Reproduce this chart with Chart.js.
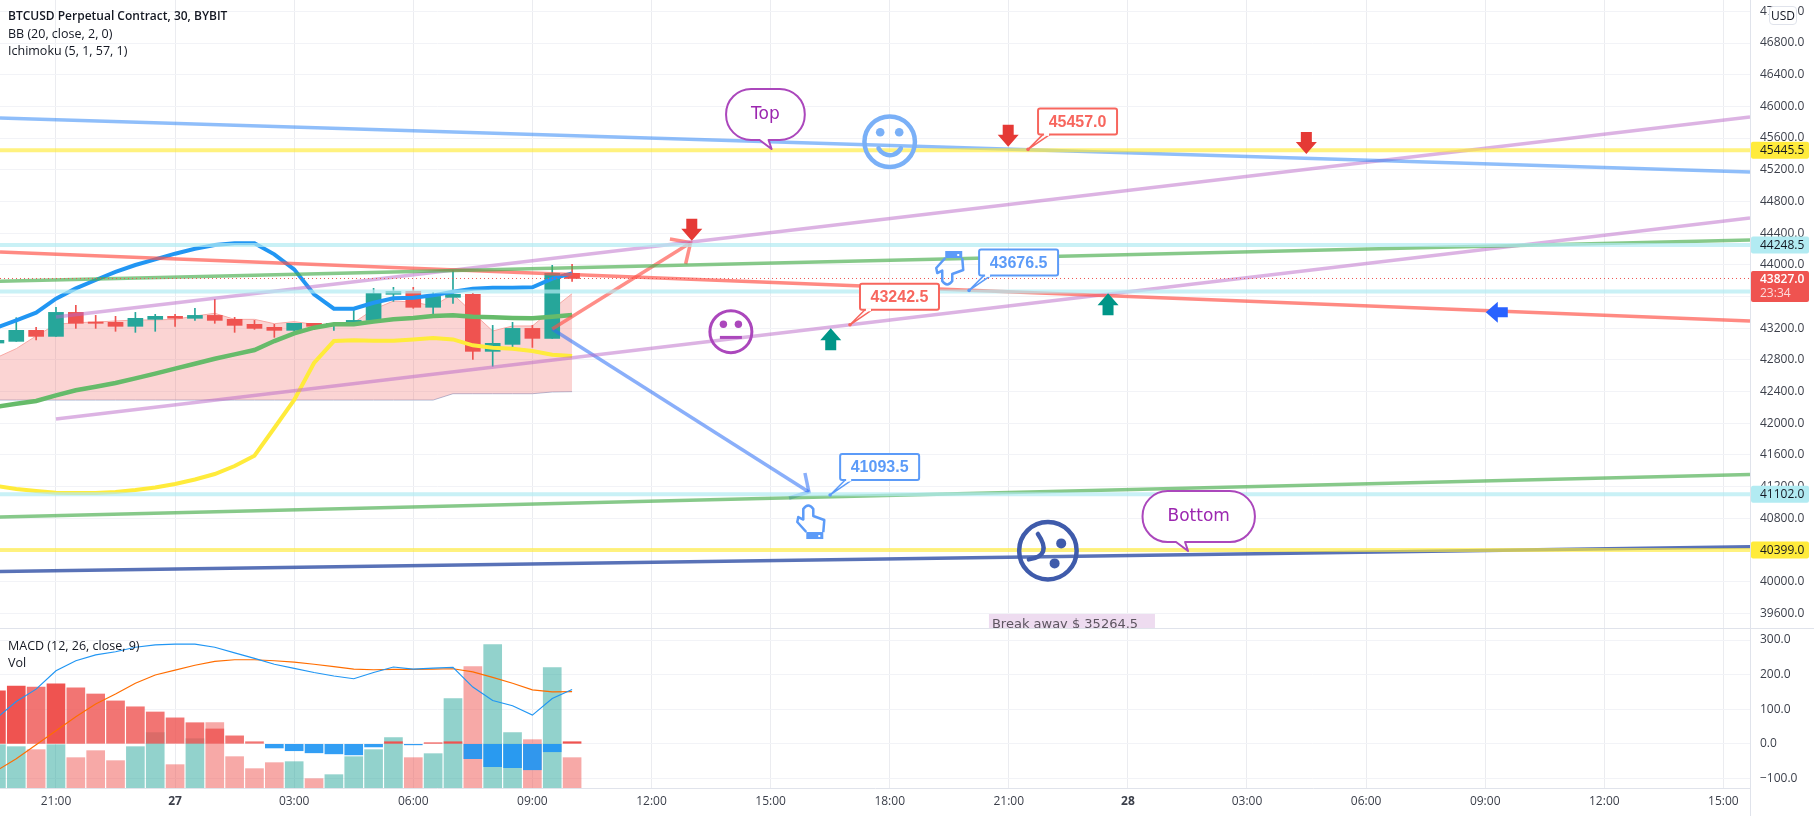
<!DOCTYPE html>
<html>
<head>
<meta charset="utf-8">
<title>BTCUSD Perpetual Contract</title>
<script src="https://cdn.jsdelivr.net/npm/chart.js@4"></script>
<style>
  html, body { margin: 0; padding: 0; background: #fff; overflow: hidden; }
  #page { position: relative; width: 1814px; height: 816px; font-family: "Open Sans", sans-serif; color: #131722; }
  canvas { position: absolute; left: 0; }
  #mainChart { top: 0; }
  #lowerChart { top: 628px; }
  .txt { position: absolute; left: 8px; font-size: 12.5px; line-height: 17px; white-space: nowrap; }
  .rule { position: absolute; background: #e0e3eb; }
  #usd { position: absolute; left: 1769px; top: 6px; width: 26px; height: 17px; border: 1px solid #e0e3eb; border-radius: 4px;
         background: #fff; font-size: 12px; line-height: 17px; text-align: center; }
</style>
</head>
<body>
<div id="page">
  <canvas id="mainChart" width="1814" height="628"></canvas>
  <canvas id="lowerChart" width="1814" height="188"></canvas>
  <div class="rule" style="left:0;top:628px;width:1814px;height:1px"></div>
  <div class="rule" style="left:1750px;top:0;width:1px;height:816px"></div>
  <div class="txt" style="top:7px;font-weight:600;font-size:12px">BTCUSD Perpetual Contract, 30, BYBIT</div>
  <div class="txt" style="top:25px">BB (20, close, 2, 0)</div>
  <div class="txt" style="top:42px">Ichimoku (5, 1, 57, 1)</div>
  <div class="txt" style="top:637px">MACD (12, 26, close, 9)</div>
  <div class="txt" style="top:654px">Vol</div>
  <div id="usd">USD</div>
</div>
<script>
// bar number, 0 is the 21:00 bar, one bar = 30 minutes
const bars = [-3,-2,-1,0,1,2,3,4,5,6,7,8,9,10,11,12,13,14,15,16,17,18,19,20,21,22,23,24,25,26];

const opens  = [43012,43033,43172,43096,43399,43277,43273,43223,43311,43349,43324,43361,43311,43248,43210,43172,43261,43231,43261,43298,43627,43665,43463,43589,43627,42907,42995,43197,43071,43892];
const closes = [43046,43172,43096,43399,43261,43261,43223,43324,43349,43324,43361,43298,43235,43197,43172,43261,43223,43261,43298,43639,43665,43463,43601,43627,42907,43008,43197,43071,43892,43827];
const highs  = [43046,43332,43210,43463,43488,43361,43349,43399,43374,43374,43450,43564,43336,43298,43248,43261,43261,43261,43425,43702,43715,43715,43648,43930,43639,43235,43273,43235,43993,44005];
const lows   = [43012,43033,43050,43096,43197,43197,43160,43147,43160,43223,43298,43261,43147,43185,43084,43160,43210,43172,43261,43269,43538,43450,43361,43513,42806,42718,42957,42957,43071,43791];

const blueLine   = [43206,43298,43395,43572,43702,43808,43909,43997,44069,44140,44203,44250,44271,44271,44132,43942,43627,43446,43446,43521,43576,43585,43614,43660,43698,43711,43711,43715,43825,43892];
const greenLine  = [42208,42246,42280,42351,42415,42461,42507,42566,42625,42688,42751,42814,42869,42924,43037,43134,43206,43248,43248,43282,43311,43328,43353,43362,43345,43336,43328,43324,43345,43366];
const yellowLine = [41207,41169,41144,41122,41118,41118,41131,41156,41188,41232,41289,41358,41459,41589,41939,42293,42760,43037,43046,43042,43042,43058,43075,43058,42983,42953,42941,42911,42865,42848];
const cloudTop   = [42827,42941,43101,43248,43269,43277,43290,43303,43303,43311,43353,43387,43311,43311,43256,43282,43248,43248,43269,43437,43542,43530,43479,43627,43395,43164,43227,43227,43437,43635];
const cloudLow   = [42292,42292,42292,42292,42292,42292,42292,42292,42292,42292,42292,42292,42292,42292,42292,42292,42292,42292,42292,42292,42292,42292,42292,42372,42372,42372,42372,42372,42394,42398];

const macdLine   = [74,122,158,211,240,257,266,279,286,288,288,279,263,247,230,218,206,196,188,206,222,216,219,221,164,125,110,83,131,157];
const signalLine = [-78,-43,-3,38,78,115,144,175,199,213,227,238,243,243,240,236,230,223,216,214,215,215,216,217,208,192,175,156,150,151];
const histogram  = [153,167,164,173,162,144,124,107,92,75,61,43,23,6,-12,-20,-26,-29,-32,-9,6,-3,3,6,-43,-66,-69,-75,-23,6];
const volumes    = [130,124,115,130,91,112,82,124,166,70,148,196,94,58,76,79,28,40,94,115,151,91,103,268,364,430,166,145,361,91];

const timeLabels  = ['21:00','27','03:00','06:00','09:00','12:00','15:00','18:00','21:00','28','03:00','06:00','09:00','12:00','15:00'];
const priceTicks  = [39600,40000,40400,40800,41200,41600,42000,42400,42800,43200,43600,44000,44400,44800,45200,45600,46000,46400,46800,47200];
const macdTicks   = [-100,0,100,200,300];

// drawn lines, [bar, price]
const lineTop      = [[-2.82,45853],[85.34,45171]];
const lineRise1    = [[0,43340],[85.34,45866]];
const lineRise2    = [[0,42053],[85.34,44590]];
const lineGreen1   = [[-2.82,43791],[85.34,44313]];
const lineGreen2   = [[-2.82,40815],[85.34,41352]];
const lineRed      = [[-2.82,44161],[85.34,43290]];
const lineDark     = [[-2.82,40127],[85.34,40441]];
const redArrow     = [[25,43189],[31.97,44279]];
const redArrowA    = [[30.93,44325],[31.97,44279],[31.72,44010]];
const blueArrow    = [[25,43189],[37.93,41131]];
const blueArrowA   = [[37.73,41371],[37.93,41131],[36.93,41055]];

const yellowLevels = [45445.5, 40399];
const cyanLevels   = [44248.5, 43663, 41102];
const lastPrice    = 43827;
const countdown    = '23:34';

// markers, [bar, price]
const downArrows = [[47.97,45491],[62.99,45399],[32.03,44304]];
const upArrows   = [[53,43640],[39.03,43198]];
const leftArrows = [[72.03,43400]];
const smileAt    = [42,45554];
const neutralAt  = [34,43155];
const sadAt      = [49.97,40390];
const handUpAt   = [38,40752];
const handDownAt = [45,43959];
const redCallouts  = [[48.97,45457],[40,43242.5]];
const blueCallouts = [[46,43676.5],[39,41093.5]];
const bubbles      = [['Top',36.05,45462],['Bottom',57.03,40386]];
const breakAway    = ['Break away $ 35264.5',47,39591];

const UP = '#26a69a', DOWN = '#ef5350';
const xMin = -2.82, xMax = 85.34;
const font = 'Open Sans';

const pts = vals => vals.map((v, k) => ({ x: bars[k], y: v }));
const segs = arr => arr.map(p => ({ x: p[0], y: p[1] }));
const isUp = k => closes[k] >= opens[k];

function trend(data, color, width) {
  return { type: 'line', data: segs(data), borderColor: color, borderWidth: width || 3.5, pointRadius: 0, tension: 0, order: 2, fill: false };
}
function level(v, color) {
  return trend([[xMin, v], [xMax, v]], color, 4);
}
function indicator(vals, color, width, order) {
  return { type: 'line', data: pts(vals), borderColor: color, borderWidth: width, pointRadius: 0, tension: 0, order: order, fill: false };
}
// the scales must fill the canvas edge to edge, so no room for half labels
function noPadding(s) {
  s.paddingTop = 0; s.paddingBottom = 0; s.paddingLeft = 0; s.paddingRight = 0;
}

function arrowDown(ctx, x, y, c) {
  ctx.fillStyle = c;
  ctx.beginPath();
  ctx.moveTo(x, y); ctx.lineTo(x - 10.5, y - 12); ctx.lineTo(x - 5.5, y - 12); ctx.lineTo(x - 5.5, y - 22);
  ctx.lineTo(x + 5.5, y - 22); ctx.lineTo(x + 5.5, y - 12); ctx.lineTo(x + 10.5, y - 12);
  ctx.closePath(); ctx.fill();
}
function arrowUp(ctx, x, y, c) {
  ctx.fillStyle = c;
  ctx.beginPath();
  ctx.moveTo(x, y); ctx.lineTo(x - 10.5, y + 12); ctx.lineTo(x - 5.5, y + 12); ctx.lineTo(x - 5.5, y + 22);
  ctx.lineTo(x + 5.5, y + 22); ctx.lineTo(x + 5.5, y + 12); ctx.lineTo(x + 10.5, y + 12);
  ctx.closePath(); ctx.fill();
}
function arrowLeft(ctx, x, y, c) {
  ctx.fillStyle = c;
  ctx.beginPath();
  ctx.moveTo(x, y); ctx.lineTo(x + 12, y - 10.5); ctx.lineTo(x + 12, y - 5); ctx.lineTo(x + 22, y - 5);
  ctx.lineTo(x + 22, y + 5); ctx.lineTo(x + 12, y + 5); ctx.lineTo(x + 12, y + 10.5);
  ctx.closePath(); ctx.fill();
}

function callout(ctx, x, y, price, c) {
  const left = x + 10, top = y - 41, w = 79, h = 26;
  ctx.strokeStyle = c; ctx.lineWidth = 1.5; ctx.fillStyle = '#fff';
  ctx.beginPath();
  ctx.moveTo(left + 5, top + h); ctx.lineTo(x, y); ctx.lineTo(left + 12, top + h);
  ctx.stroke();
  ctx.lineWidth = 2;
  ctx.beginPath(); ctx.roundRect(left, top, w, h, 2); ctx.fill(); ctx.stroke();
  ctx.fillStyle = '#fff'; ctx.fillRect(left + 6, top + h - 1.5, 5, 3);
  ctx.fillStyle = c;
  ctx.beginPath(); ctx.arc(x, y, 1.8, 0, Math.PI * 2); ctx.fill();
  ctx.font = 'bold 16px "Liberation Sans"'; ctx.textAlign = 'center'; ctx.textBaseline = 'middle';
  ctx.fillText(price.toFixed(1), left + w / 2, top + h / 2 + 1);
}

function bubble(ctx, x, y, text) {
  ctx.font = '17px "DejaVu Sans"';
  const w = ctx.measureText(text).width + 50, h = 51;
  const left = x - 45.5, bottom = y - 9, top = bottom - h, r = 25;
  ctx.strokeStyle = '#ab47bc'; ctx.lineWidth = 2; ctx.fillStyle = '#fff';
  ctx.beginPath();
  ctx.moveTo(left + r, top); ctx.lineTo(left + w - r, top);
  ctx.arcTo(left + w, top, left + w, top + r, r); ctx.arcTo(left + w, bottom, left + w - r, bottom, r);
  ctx.lineTo(x - 3, bottom); ctx.lineTo(x, y); ctx.lineTo(x - 12, bottom); ctx.lineTo(left + r, bottom);
  ctx.arcTo(left, bottom, left, bottom - r, r); ctx.arcTo(left, top, left + r, top, r);
  ctx.closePath(); ctx.fill(); ctx.stroke();
  ctx.fillStyle = '#9c27b0'; ctx.textAlign = 'center'; ctx.textBaseline = 'middle';
  ctx.fillText(text, left + w / 2, top + h / 2);
}

function ring(ctx, x, y, r, lw, c) {
  ctx.strokeStyle = c; ctx.lineWidth = lw; ctx.fillStyle = c; ctx.lineCap = 'round';
  ctx.beginPath(); ctx.arc(x, y, r - lw / 2, 0, Math.PI * 2); ctx.stroke();
}
function dot(ctx, x, y, r) {
  ctx.beginPath(); ctx.arc(x, y, r, 0, Math.PI * 2); ctx.fill();
}
function smile(ctx, x, y) {
  ring(ctx, x, y, 27.5, 4.5, '#7ab0f7');
  dot(ctx, x - 9.5, y - 9.5, 4.3); dot(ctx, x + 9.5, y - 9.5, 4.3);
  ctx.beginPath(); ctx.arc(x, y + 1, 12.5, 0.15 * Math.PI, 0.85 * Math.PI); ctx.stroke();
}
function neutral(ctx, x, y) {
  ring(ctx, x, y, 22.5, 3, '#ab47bc');
  dot(ctx, x - 7.5, y - 7.5, 3.7); dot(ctx, x + 7.5, y - 7.5, 3.7);
  ctx.lineCap = 'butt'; ctx.lineWidth = 3;
  ctx.beginPath(); ctx.moveTo(x - 11, y + 5.7); ctx.lineTo(x + 11, y + 5.7); ctx.stroke();
}
function sad(ctx, x, y) {
  ring(ctx, x, y, 31, 4.5, '#3f5bab');
  dot(ctx, x + 13.3, y - 7.3, 5); dot(ctx, x + 6.7, y + 12.7, 5);
  ctx.beginPath(); ctx.moveTo(x - 10, y - 16.7); ctx.quadraticCurveTo(x + 5, y + 5, x - 19, y + 8.7); ctx.stroke();
}

// dir 1 = finger up, dir -1 = finger down
function hand(ctx, x, y, dir) {
  const c = '#5c9bf8';
  ctx.strokeStyle = c; ctx.lineWidth = 2.5; ctx.fillStyle = c; ctx.lineJoin = 'round'; ctx.lineCap = 'butt';
  ctx.beginPath();
  ctx.moveTo(x - 4, y + 10 * dir); ctx.lineTo(x - 13, y); ctx.lineTo(x - 12, y - 5 * dir); ctx.lineTo(x - 7, y - 2.5 * dir);
  ctx.lineTo(x - 7, y - 13 * dir); ctx.quadraticCurveTo(x - 2, y - 20 * dir, x + 3, y - 13 * dir);
  ctx.lineTo(x + 3, y - 6 * dir); ctx.lineTo(x + 14, y - 2 * dir); ctx.lineTo(x + 13, y + 10 * dir);
  ctx.stroke();
  const top = dir > 0 ? y + 10 : y - 17;
  ctx.fillRect(x - 4, top, 17, 7);
  ctx.fillStyle = '#fff'; ctx.fillRect(x + 8, dir > 0 ? y + 13 : y - 14, 2, 2);
}

function priceTag(ctx, yPix, text, bg) {
  ctx.fillStyle = bg;
  ctx.beginPath(); ctx.roundRect(1751, yPix - 8.5, 58, 17, 2); ctx.fill();
  ctx.fillStyle = '#131722'; ctx.font = '12px "' + font + '"'; ctx.textAlign = 'left'; ctx.textBaseline = 'middle';
  ctx.fillText(text, 1760, yPix + 0.5);
}

const markerPlugin = {
  id: 'markers',
  afterDraw(chart) {
    const ctx = chart.ctx, sx = chart.scales.x, sy = chart.scales.y, a = chart.chartArea;
    const X = p => sx.getPixelForValue(p), Y = p => sy.getPixelForValue(p);
    ctx.save();
    downArrows.forEach(p => arrowDown(ctx, X(p[0]), Y(p[1]), '#e53935'));
    upArrows.forEach(p => arrowUp(ctx, X(p[0]), Y(p[1]), '#009688'));
    leftArrows.forEach(p => arrowLeft(ctx, X(p[0]), Y(p[1]), '#2962ff'));
    smile(ctx, X(smileAt[0]), Y(smileAt[1]));
    neutral(ctx, X(neutralAt[0]), Y(neutralAt[1]));
    sad(ctx, X(sadAt[0]), Y(sadAt[1]));
    hand(ctx, X(handUpAt[0]), Y(handUpAt[1]), 1);
    hand(ctx, X(handDownAt[0]), Y(handDownAt[1]), -1);
    redCallouts.forEach(p => callout(ctx, X(p[0]), Y(p[1]), p[1], '#f7665e'));
    blueCallouts.forEach(p => callout(ctx, X(p[0]), Y(p[1]), p[1], '#5c9bf8'));
    bubbles.forEach(b => bubble(ctx, X(b[1]), Y(b[2]), b[0]));

    // text box cut by the bottom of the pane
    ctx.save();
    ctx.beginPath(); ctx.rect(a.left, a.top, a.right - a.left, a.bottom - a.top); ctx.clip();
    const bx = X(breakAway[1]), by = Y(breakAway[2]);
    ctx.fillStyle = '#eedcf0'; ctx.fillRect(bx, by, 166, 20);
    ctx.fillStyle = '#5d5560'; ctx.font = '13px "DejaVu Sans"'; ctx.textAlign = 'left'; ctx.textBaseline = 'alphabetic';
    ctx.fillText(breakAway[0], bx + 3, by + 14);
    ctx.restore();

    yellowLevels.forEach(v => priceTag(ctx, Y(v), v.toFixed(1), '#ffeb3b'));
    cyanLevels.forEach(v => priceTag(ctx, Y(v), v.toFixed(1), '#b2ebf2'));

    const ly = Y(lastPrice);
    ctx.fillStyle = DOWN;
    ctx.beginPath(); ctx.roundRect(1751, ly - 7.5, 58, 31, 2); ctx.fill();
    ctx.textAlign = 'left'; ctx.textBaseline = 'middle';
    ctx.fillStyle = '#fff'; ctx.font = '600 12px "' + font + '"';
    ctx.fillText(lastPrice.toFixed(1), 1760, ly + 1);
    ctx.fillStyle = '#fcdcdb'; ctx.font = '12px "' + font + '"';
    ctx.fillText(countdown, 1760, ly + 15);
    ctx.restore();
  }
};

const gridH = '#f2f3f7', gridV = '#ebecf0';

new Chart(document.getElementById('mainChart'), {
  type: 'bar',
  plugins: [markerPlugin],
  data: {
    datasets: [
      { type: 'line', data: pts(cloudLow), borderColor: '#b0bcd8', borderWidth: 1, pointRadius: 0, tension: 0, order: 9, fill: false },
      { type: 'line', data: pts(cloudTop), borderColor: '#f7a8a4', borderWidth: 1, pointRadius: 0, tension: 0, order: 8,
        fill: { target: 0 }, backgroundColor: 'rgba(239,83,80,0.25)' },
      { data: pts(lows.map((l, k) => [l, highs[k]])), backgroundColor: bars.map((b, k) => isUp(k) ? UP : DOWN), barThickness: 1, grouped: false, order: 7 },
      { data: pts(opens.map((o, k) => [o, closes[k]])), backgroundColor: bars.map((b, k) => isUp(k) ? UP : DOWN), barThickness: 15, grouped: false, order: 6 },
      indicator(yellowLine, '#ffeb3b', 4, 5),
      indicator(greenLine, '#66bb6a', 4.5, 4),
      indicator(blueLine, '#2196f3', 4, 3),
      ...yellowLevels.map(v => level(v, 'rgba(255,235,59,0.65)')),
      ...cyanLevels.map(v => level(v, 'rgba(178,235,242,0.7)')),
      { type: 'line', data: segs([[xMin, lastPrice], [xMax, lastPrice]]), borderColor: DOWN, borderWidth: 1, borderDash: [1, 3], pointRadius: 0, order: 2 },
      trend(lineGreen1, 'rgba(76,175,80,0.67)'),
      trend(lineGreen2, 'rgba(76,175,80,0.67)'),
      trend(lineDark, 'rgba(48,79,165,0.8)'),
      trend(lineTop, 'rgba(41,130,245,0.52)'),
      trend(lineRed, 'rgba(255,82,72,0.68)'),
      trend(lineRise1, 'rgba(186,104,200,0.5)'),
      trend(lineRise2, 'rgba(186,104,200,0.5)'),
      trend(redArrow, 'rgba(255,82,72,0.65)'),
      trend(redArrowA, 'rgba(255,82,72,0.65)'),
      trend(blueArrow, 'rgba(41,110,245,0.55)'),
      trend(blueArrowA, 'rgba(41,110,245,0.55)')
    ]
  },
  options: {
    responsive: false, animation: false, events: [], devicePixelRatio: 1,
    layout: { padding: 0 },
    plugins: { legend: { display: false }, tooltip: { enabled: false } },
    scales: {
      x: {
        type: 'linear', min: xMin, max: xMax, offset: false,
        border: { display: false },
        grid: { color: gridV, offset: false, drawTicks: false },
        ticks: { display: false, stepSize: 6, includeBounds: false },
        afterFit(s) { s.height = 0; noPadding(s); }
      },
      y: {
        position: 'right', min: 39414, max: 47343,
        border: { display: false },
        grid: { color: gridH, drawTicks: false },
        afterBuildTicks(s) { s.ticks = priceTicks.map(v => ({ value: v })); },
        ticks: {
          padding: 10, color: '#3b3f4a',
          font: { family: font, size: 12 },
          callback: v => v.toFixed(1)
        },
        afterFit(s) { s.width = 64; noPadding(s); }
      }
    }
  }
});

new Chart(document.getElementById('lowerChart'), {
  type: 'bar',
  data: {
    datasets: [
      { data: pts(histogram), yAxisID: 'y',
        backgroundColor: histogram.map((h, k) => h < 0 ? 'rgba(33,150,243,0.92)' : (k > 0 && h < histogram[k - 1] ? 'rgba(239,83,80,0.8)' : DOWN)),
        barThickness: 18, grouped: false, order: 3 },
      { data: pts(volumes), yAxisID: 'yVol', backgroundColor: bars.map((b, k) => isUp(k) ? 'rgba(38,166,154,0.5)' : 'rgba(239,83,80,0.5)'), barThickness: 18, grouped: false, order: 4 },
      { type: 'line', data: pts(signalLine), yAxisID: 'y', borderColor: '#ff6d00', borderWidth: 1.2, pointRadius: 0, tension: 0, order: 2 },
      { type: 'line', data: pts(macdLine), yAxisID: 'y', borderColor: '#2196f3', borderWidth: 1.2, pointRadius: 0, tension: 0, order: 1 }
    ]
  },
  options: {
    responsive: false, animation: false, events: [], devicePixelRatio: 1,
    layout: { padding: 0 },
    plugins: { legend: { display: false }, tooltip: { enabled: false } },
    scales: {
      x: {
        type: 'linear', min: xMin, max: xMax, offset: false,
        border: { display: true, color: '#e0e3eb' },
        grid: { color: gridV, offset: false, drawTicks: false },
        ticks: {
          stepSize: 6, includeBounds: false, padding: 6, maxRotation: 0, autoSkip: false, color: '#3b3f4a',
          font: c => ({ family: font, size: 12, weight: (c.tick && /^\d\d$/.test(timeLabels[c.tick.value / 6])) ? '700' : '400' }),
          callback: v => timeLabels[v / 6]
        },
        afterFit(s) { s.height = 28; noPadding(s); }
      },
      y: {
        position: 'right', min: -127.7, max: 334.7,
        border: { display: false },
        grid: { color: gridH, drawTicks: false },
        afterBuildTicks(s) { s.ticks = macdTicks.map(v => ({ value: v })); },
        ticks: {
          padding: 10, color: '#3b3f4a',
          font: { family: font, size: 12 },
          callback: v => (v < 0 ? '\u2212' + Math.abs(v).toFixed(1) : v.toFixed(1))
        },
        afterFit(s) { s.width = 64; noPadding(s); }
      },
      yVol: { display: false, min: 0, max: 480 }
    }
  }
});
</script>
</body>
</html>
